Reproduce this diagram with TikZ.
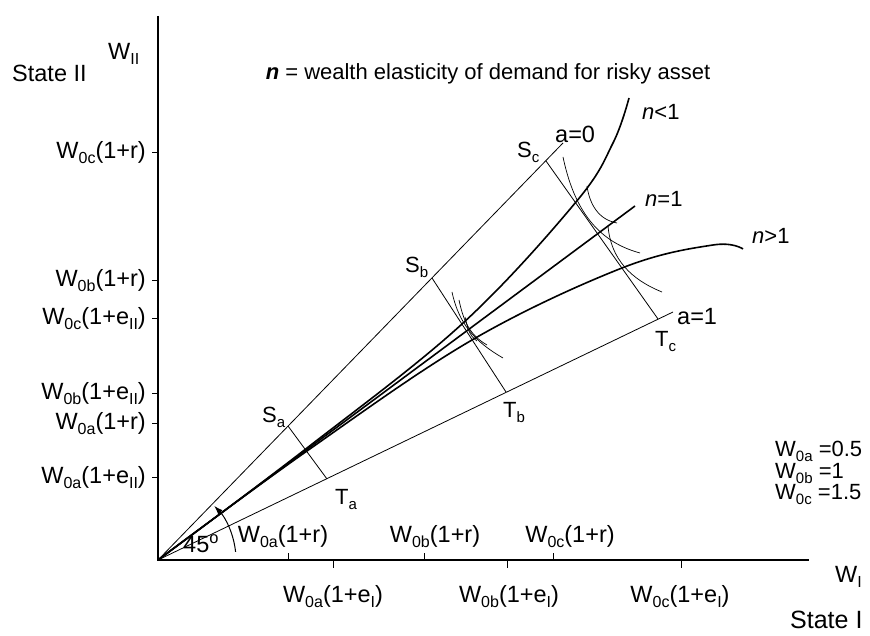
\documentclass[tikz,border=0pt]{standalone}
\usepackage{fontspec}
\setmainfont{Liberation Sans}
\usetikzlibrary{arrows.meta}
\newcommand\sbs[1]{\raisebox{-5pt}{\fontsize{16}{16}\selectfont #1}}
\newcommand\sbsm[1]{\raisebox{-5pt}{\fontsize{15}{15}\selectfont #1}}
\begin{document}
\begin{tikzpicture}[x=1pt,y=1pt,
  lbl/.style={font=\fontsize{22}{24}\selectfont, inner sep=0pt},
  wlbl/.style={font=\fontsize{23.5}{25}\selectfont, inner sep=0pt},
  thinln/.style={line width=0.8pt},
  thickcurve/.style={line width=1.6pt},
  axisln/.style={line width=1.1pt},
  tickln/.style={line width=1pt},
  icurve/.style={line width=0.7pt}]
\useasboundingbox (0,0) rectangle (870,636);
% axes
\coordinate (O) at (158,76);
\coordinate (Ytop) at (158,620);
\coordinate (Xend) at (809,76);
\draw[axisln] (Ytop) -- (O) -- (Xend);
% y ticks
\foreach \n/\y in {1/483,2/355,3/317,4/242,5/212,6/158}{
  \coordinate (yt\n) at (158,\y);
  \draw[tickln] (yt\n) -- ++(-6,0);
}
% x ticks (upper: 1+r ; lower: 1+e_I)
\foreach \n/\x in {1/288,2/424,3/553}{
  \coordinate (xu\n) at (\x,76);
  \draw[tickln] (xu\n) -- ++(0,7);
}
\foreach \n/\x in {1/333,2/507,3/681}{
  \coordinate (xl\n) at (\x,76);
  \draw[tickln] (xl\n) -- ++(0,-8);
}
% y labels
\node[wlbl,anchor=base east] (ly1) at (146,477) {W\sbs{0c}(1+r)};
\node[wlbl,anchor=base east] (ly2) at (146,349) {W\sbs{0b}(1+r)};
\node[wlbl,anchor=base east] (ly3) at (146,311) {W\sbs{0c}(1+e\sbs{II})};
\node[wlbl,anchor=base east] (ly4) at (146,236) {W\sbs{0b}(1+e\sbs{II})};
\node[wlbl,anchor=base east] (ly5) at (146,206) {W\sbs{0a}(1+r)};
\node[wlbl,anchor=base east] (ly6) at (146,152) {W\sbs{0a}(1+e\sbs{II})};
% x labels
\node[wlbl,anchor=base] (lxu1) at (283,93) {W\sbs{0a}(1+r)};
\node[wlbl,anchor=base] (lxu2) at (435,93) {W\sbs{0b}(1+r)};
\node[wlbl,anchor=base] (lxu3) at (570,93) {W\sbs{0c}(1+r)};
\node[wlbl,anchor=base] (lxl1) at (333,33) {W\sbs{0a}(1+e\sbs{I})};
\node[wlbl,anchor=base] (lxl2) at (509,33) {W\sbs{0b}(1+e\sbs{I})};
\node[wlbl,anchor=base] (lxl3) at (680,33) {W\sbs{0c}(1+e\sbs{I})};
% axis titles
\node[wlbl,anchor=base west] (wii) at (108,576) {W\sbs{II}};
\node[wlbl,anchor=base west] (s2) at (12,554) {State II};
\node[wlbl,anchor=base west] (wi) at (835,53) {W\sbs{I}};
\node[lbl,font=\fontsize{25}{26}\selectfont,anchor=base west] (s1) at (790,7) {State I};
\node[lbl,anchor=base] (title) at (488,556) {\textbf{\textit{n}} = wealth elasticity of demand for risky asset};
% parameter values
\node[lbl,anchor=base west] (va) at (775,179) {W\sbsm{0a} =0.5};
\node[lbl,anchor=base west] (vb) at (775,157) {W\sbsm{0b} =1};
\node[lbl,anchor=base west] (vc) at (775,136) {W\sbsm{0c} =1.5};
% a=0 and a=1 rays
\coordinate (A0end) at (563,493);
\coordinate (A1end) at (673,324);
\coordinate (Sa) at (288,210);
\coordinate (Sb) at (432,358);
\coordinate (Sc) at (546,475);
\coordinate (Ta) at (327,157);
\coordinate (Tb) at (506,244);
\coordinate (Tc) at (658,317);
\draw[thinln] (O) -- (A0end);
\draw[thinln] (O) -- (A1end);
\draw[thinln] (Sa) -- (Ta);
\draw[thinln] (Sb) -- (Tb);
\draw[thinln] (Sc) -- (Tc);
\node[wlbl,anchor=base west] (a0) at (555,493) {a=0};
\node[wlbl,anchor=base west] (a1) at (677,311) {a=1};
\node[lbl,anchor=base west] (lsa) at (262,213) {S\sbsm{a}};
\node[lbl,anchor=base west] (lsb) at (405,363) {S\sbsm{b}};
\node[lbl,anchor=base west] (lsc) at (517,478) {S\sbsm{c}};
\node[lbl,anchor=base west] (lta) at (335,131) {T\sbsm{a}};
\node[lbl,anchor=base west] (ltb) at (503,218) {T\sbsm{b}};
\node[lbl,anchor=base west] (ltc) at (655,289) {T\sbsm{c}};
% expansion paths
\coordinate (N1end) at (635,430);
\draw[thickcurve] (O) -- (N1end);
\coordinate (l1) at (307,188);
\coordinate (l2) at (462,312);
\coordinate (l3) at (576,434);
\coordinate (l4) at (613,493);
\coordinate (l5) at (629,538);
\draw[thickcurve] plot[smooth,tension=0.6] coordinates {(O) (l1) (l2) (l3) (l4) (l5)};
\coordinate (g1) at (307,185);
\coordinate (g2) at (472,296);
\coordinate (g3) at (622,368);
\coordinate (g4) at (713,391);
\coordinate (g5) at (743,387);
\draw[thickcurve] plot[smooth,tension=0.6] coordinates {(O) (g1) (g2) (g3) (g4) (g5)};
\node[lbl,anchor=base west] (nlt) at (642,516) {\textit{n}<1};
\node[lbl,anchor=base west] (neq) at (645,429) {\textit{n}=1};
\node[lbl,anchor=base west] (ngt) at (752,392) {\textit{n}>1};
% indifference curves
\coordinate (c1s) at (563,479); \coordinate (c1e) at (640,383);
\coordinate (c2s) at (587,450); \coordinate (c2e) at (617,413);
\coordinate (c3s) at (608,410); \coordinate (c3e) at (662,344);
\draw[icurve] (c1s) to[out=-78,in=165] (c1e);
\draw[icurve] (c2s) to[out=-82,in=170] (c2e);
\draw[icurve] (c3s) to[out=-85,in=158] (c3e);
\coordinate (b1s) at (452,344); \coordinate (b1e) at (503,278);
\coordinate (b2s) at (459,336); \coordinate (b2e) at (487,291);
\coordinate (b3s) at (465,319); \coordinate (b3e) at (477,295);
\draw[icurve] (b1s) to[out=-78,in=150] (b1e);
\draw[icurve] (b2s) to[out=-78,in=150] (b2e);
\draw[icurve] (b3s) to[out=-75,in=145] (b3e);
% 45 degree arc
\coordinate (arcs) at ([shift={(6:78)}]O);
\draw[line width=1pt,-{Latex[length=9pt,width=6pt]}] (arcs) arc[start angle=6,end angle=44,radius=78];
\node[wlbl,anchor=base west] (deg) at (183,83) {45\textsuperscript{o}};
\end{tikzpicture}
\end{document}
